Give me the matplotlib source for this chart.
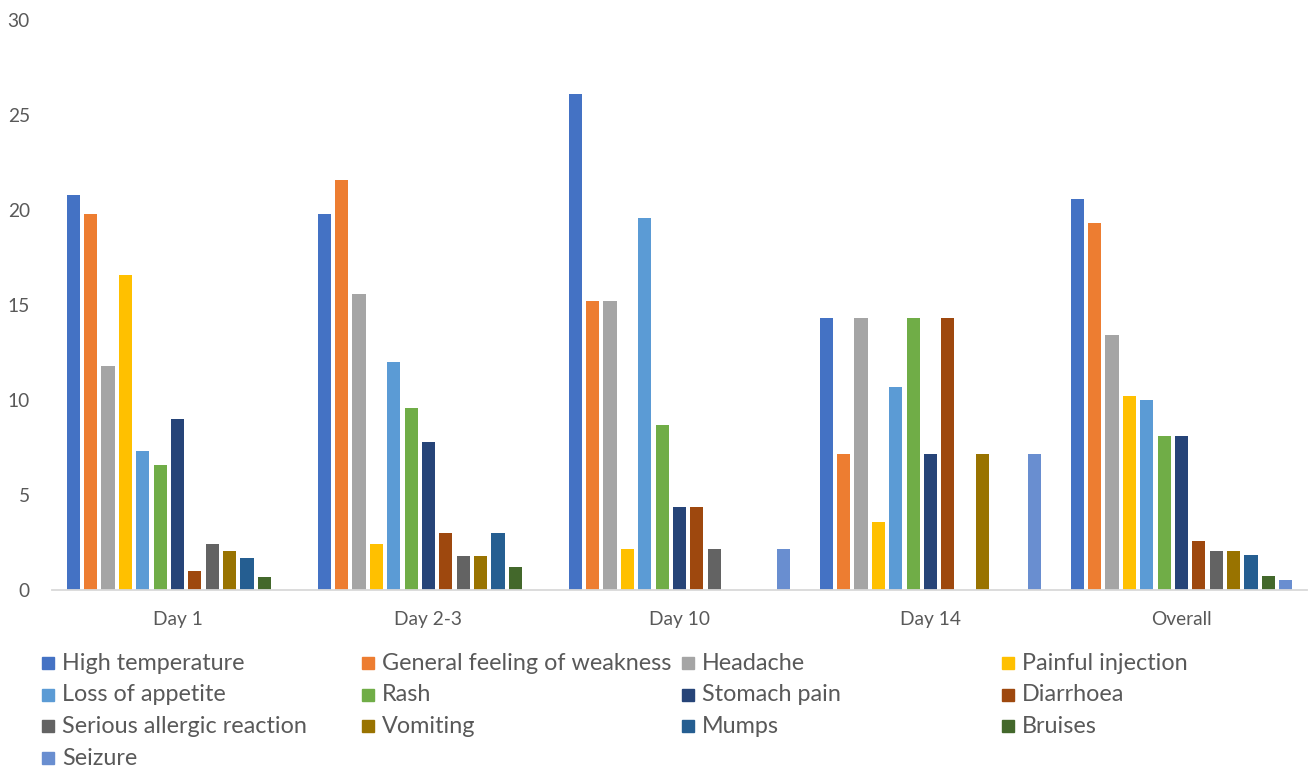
import numpy as np
import matplotlib
matplotlib.use("Agg")
import matplotlib.pyplot as plt
from matplotlib.patches import Rectangle

plt.rcParams['font.family'] = ['Lato', 'DejaVu Sans']

# categories and series
categories = ["Day 1", "Day 2-3", "Day 10", "Day 14", "Overall"]
symptoms = ["High temperature", "General feeling of weakness", "Headache",
            "Painful injection", "Loss of appetite", "Rash", "Stomach pain",
            "Diarrhoea", "Serious allergic reaction", "Vomiting", "Mumps",
            "Bruises", "Seizure"]
colors = ["#4472C4", "#ED7D31", "#A5A5A5", "#FFC000", "#5B9BD5", "#70AD47",
          "#264478", "#9E480E", "#636363", "#997300", "#255E91", "#43682B",
          "#698ED0"]

# values (percent), one list per time point
day1 = [20.8, 19.8, 11.8, 16.6, 7.3, 6.6, 9.0, 1.0, 2.4, 2.05, 1.7, 0.7, 0]
day2_3 = [19.8, 21.6, 15.6, 2.4, 12.0, 9.6, 7.8, 3.0, 1.8, 1.8, 3.0, 1.2, 0]
day10 = [26.09, 15.22, 15.22, 2.17, 19.57, 8.70, 4.35, 4.35, 2.17, 0, 0, 0, 2.17]
day14 = [14.29, 7.14, 14.29, 3.57, 10.71, 14.29, 7.14, 14.29, 0, 7.14, 0, 0, 7.14]
overall = [20.6, 19.3, 13.4, 10.2, 10.0, 8.1, 8.1, 2.6, 2.05, 2.05, 1.85, 0.72, 0.53]

vals = np.array([day1, day2_3, day10, day14, overall])  # (5, 13)

W, H = 1314, 769
fig = plt.figure(figsize=(W / 100, H / 100), dpi=100)
ax = fig.add_axes([52 / W, 1 - 590 / H, (1307 - 52) / W, (590 - 20) / H])

x = np.arange(len(categories))
slot = 0.0691
bw = 0.053
n = len(symptoms)
for k in range(n):
    ax.bar(x + (k - (n - 1) / 2) * slot, vals[:, k], width=bw,
           color=colors[k], edgecolor="none")

txt = "#595959"
ax.set_xlim(-0.5, len(categories) - 0.5)
ax.set_ylim(0, 30)
ax.set_yticks(range(0, 31, 5))
ax.set_xticks(x)
ax.set_xticklabels(categories)
ax.tick_params(axis="both", length=0, colors=txt, labelsize=13.8)
ax.tick_params(axis="y", pad=16)
ax.tick_params(axis="x", pad=15)
for s in ["top", "right", "left"]:
    ax.spines[s].set_visible(False)
ax.spines["bottom"].set_color("#D9D9D9")
ax.spines["bottom"].set_linewidth(1.3)

# legend, laid out row by row like the original
for k, name in enumerate(symptoms):
    r, c = divmod(k, 4)
    px = 42 + 320 * c
    py = 663 + 31.7 * r
    fig.patches.append(Rectangle((px / W, 1 - (py + 6) / H), 12 / W, 12 / H,
                                 transform=fig.transFigure, color=colors[k]))
    fig.text((px + 20) / W, 1 - py / H, name, fontsize=16.8, color=txt,
             va="center", ha="left")

fig.savefig("out.png", dpi=100)
